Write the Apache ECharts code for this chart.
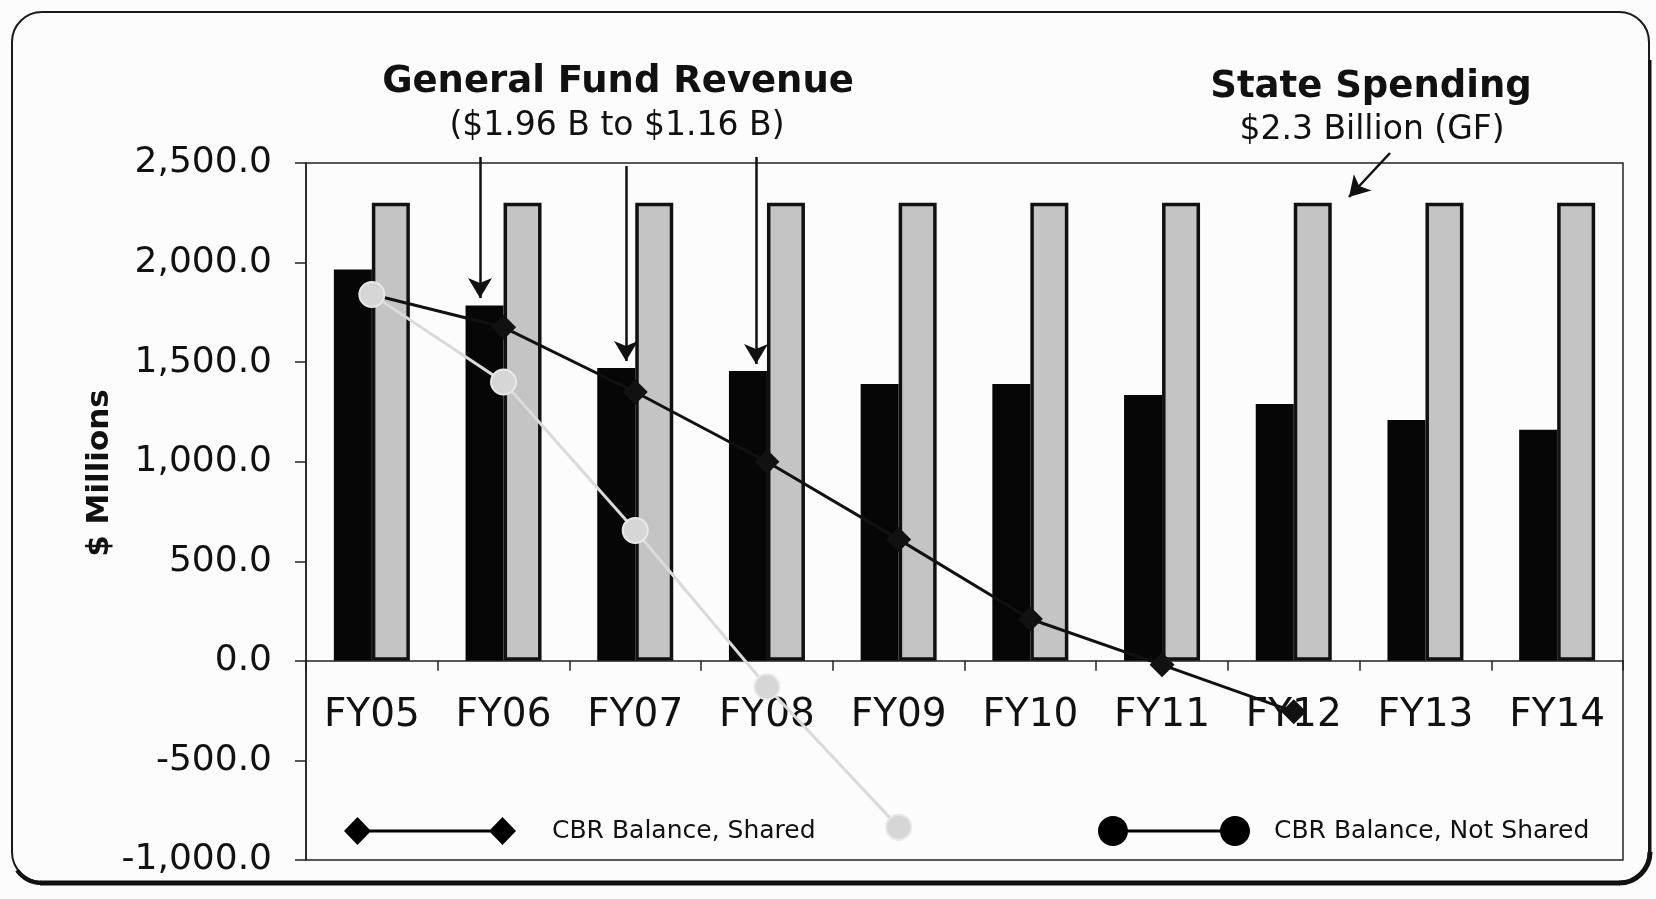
<!DOCTYPE html>
<html>
<head>
<meta charset="utf-8">
<title>General Fund Revenue vs State Spending</title>
<script src="https://cdn.jsdelivr.net/npm/echarts/dist/echarts.min.js"></script>
<style>
  html, body { margin: 0; padding: 0; background: #fcfcfc; }
  #main { width: 1656px; height: 899px; }
</style>
</head>
<body>
<div id="main"></div>
<script>
// data ($ millions)
const years = ['FY05', 'FY06', 'FY07', 'FY08', 'FY09', 'FY10', 'FY11', 'FY12', 'FY13', 'FY14']
const revenue = [1965, 1785, 1470, 1455, 1390, 1390, 1335, 1290, 1210, 1160]
const spending = [2300, 2300, 2300, 2300, 2300, 2300, 2300, 2300, 2300, 2300]
const cbrShared = [1840, 1675, 1350, 1000, 610, 210, -20, -255, null, null]
const cbrNotShared = [1840, 1400, 655, -130, -835, null, null, null, null, null]
const yTicks = [-1000, -500, 0, 500, 1000, 1500, 2000, 2500]

const chart = echarts.init(document.getElementById('main'))

const fmt = v => v.toLocaleString('en-US', { minimumFractionDigits: 1, maximumFractionDigits: 1 })

// plot box
const gridTop = 163, gridBottom = 39, H = 899
const yMin = yTicks[0], yMax = yTicks[yTicks.length - 1]
// the category axis sits on the zero line, labels with it
const plotH = H - gridTop - gridBottom
const zeroFromBottom = plotH * (0 - yMin) / (yMax - yMin)

// legend icons: line with a marker at each end
const diamondIcon = 'path://M0,14L13.5,0L27,14L13.5,28ZM13.5,12.5L158.5,12.5L158.5,15.5L13.5,15.5ZM145,14L158.5,0L172,14L158.5,28Z'
const circ = cx => 'M' + (cx - 15) + ',15C' + (cx - 15) + ',6.7 ' + (cx - 8.3) + ',0 ' + cx + ',0C' + (cx + 8.3) + ',0 ' + (cx + 15) + ',6.7 ' + (cx + 15) + ',15C' +
  (cx + 15) + ',23.3 ' + (cx + 8.3) + ',30 ' + cx + ',30C' + (cx - 8.3) + ',30 ' + (cx - 15) + ',23.3 ' + (cx - 15) + ',15Z'
const circleIcon = 'path://' + circ(15) + 'M15,13.5L137,13.5L137,16.5L15,16.5Z' + circ(137)

let option = {
  backgroundColor: '#fcfcfc',
  animation: false,
  grid: {
    left: 306,
    right: 33,
    top: gridTop,
    bottom: gridBottom,
    show: true,
    borderColor: '#222',
    borderWidth: 1.5,
    backgroundColor: 'transparent',
    containLabel: false,
    outerBoundsMode: 'none'
  },
  legend: [
    {
      left: 344,
      top: 817,
      padding: 0,
      itemWidth: 172,
      itemHeight: 28,
      data: [{ name: 'CBR Balance, Shared', icon: diamondIcon, itemStyle: { color: '#000', borderWidth: 0 } }],
      textStyle: { fontFamily: 'DejaVu Sans', fontSize: 25, color: '#111', padding: [0, 0, 0, 31] }
    },
    {
      left: 1098,
      top: 816,
      padding: 0,
      itemWidth: 152,
      itemHeight: 30,
      data: [{ name: 'CBR Balance, Not Shared', icon: circleIcon, itemStyle: { color: '#000', borderWidth: 0 } }],
      textStyle: { fontFamily: 'DejaVu Sans', fontSize: 25, color: '#111', padding: [0, 0, 0, 19] }
    }
  ],
  xAxis: {
    type: 'category',
    data: years,
    position: 'bottom',
    offset: -zeroFromBottom,
    axisLine: { onZero: false, lineStyle: { color: '#222', width: 1.5 } },
    axisTick: { show: true, length: 10, lineStyle: { color: '#222', width: 1.5 } },
    axisLabel: { fontFamily: 'DejaVu Sans', fontSize: 39, color: '#111', margin: 36, interval: 0 },
    splitLine: { show: false }
  },
  yAxis: {
    type: 'value',
    min: yMin,
    max: yMax,
    interval: 500,
    axisLine: { show: true, lineStyle: { color: '#222', width: 1.5 } },
    axisTick: { show: true, length: 11, lineStyle: { color: '#222', width: 1.5 } },
    axisLabel: { fontFamily: 'DejaVu Sans', fontSize: 36, color: '#111', margin: 34, formatter: fmt },
    splitLine: { show: false }
  },
  series: [
    {
      name: 'General Fund Revenue',
      type: 'bar',
      data: revenue,
      barWidth: 38,
      barGap: '0%',
      itemStyle: { color: '#060606' },
      markLine: {
        silent: true,
        symbol: ['none', 'arrow'],
        symbolSize: [18, 20],
        lineStyle: { color: '#111', width: 2.5, type: 'solid' },
        label: { show: false },
        data: [
          [{ x: 480, y: 157 }, { x: 480, y: 298 }],
          [{ x: 626, y: 166 }, { x: 626, y: 361 }],
          [{ x: 756, y: 157 }, { x: 756, y: 364 }],
          [{ x: 1390, y: 153 }, { x: 1349, y: 197 }]
        ]
      }
    },
    {
      name: 'State Spending',
      type: 'bar',
      data: spending,
      barWidth: 38,
      itemStyle: { color: '#c4c4c4', borderColor: '#111', borderWidth: 3.5 }
    },
    {
      name: 'CBR Balance, Shared',
      type: 'line',
      data: cbrShared,
      symbol: 'diamond',
      symbolSize: [25, 25],
      showAllSymbol: true,
      lineStyle: { color: '#111', width: 3 },
      itemStyle: { color: '#111' },
      z: 3
    },
    {
      name: 'CBR Balance, Not Shared',
      type: 'line',
      data: cbrNotShared,
      symbol: 'circle',
      symbolSize: 25,
      showAllSymbol: true,
      lineStyle: { color: '#dadada', width: 3 },
      itemStyle: { color: '#d6d6d6', borderColor: '#e8e8e8', borderWidth: 2 },
      z: 4
    }
  ],
  graphic: [
    // rounded frame, heavier along the bottom and right
    {
      type: 'rect', z: -10, silent: true,
      shape: { x: 12, y: 12, width: 1637, height: 870, r: 30 },
      style: { fill: 'none', stroke: '#1a1a1a', lineWidth: 2 }
    },
    {
      type: 'line', z: -10, silent: true,
      shape: { x1: 40, y1: 883, x2: 1620, y2: 883 },
      style: { stroke: '#111', lineWidth: 5 }
    },
    {
      type: 'arc', z: -10, silent: true,
      shape: { cx: 1619, cy: 852, r: 31, startAngle: 0, endAngle: Math.PI / 2 },
      style: { stroke: '#111', lineWidth: 5, fill: 'none' }
    },
    {
      type: 'arc', z: -10, silent: true,
      shape: { cx: 42, cy: 852, r: 31, startAngle: Math.PI / 2, endAngle: Math.PI * 0.8 },
      style: { stroke: '#111', lineWidth: 4, fill: 'none' }
    },
    {
      type: 'line', z: -10, silent: true,
      shape: { x1: 1650, y1: 60, x2: 1650, y2: 852 },
      style: { stroke: '#111', lineWidth: 3 }
    },
    {
      type: 'text',
      x: 618, y: 82,
      style: { text: 'General Fund Revenue', fontFamily: 'DejaVu Sans', fontWeight: 'bold', fontSize: 37, fill: '#111', align: 'center', verticalAlign: 'middle' }
    },
    {
      type: 'text',
      x: 617, y: 126,
      style: { text: '($1.96 B to $1.16 B)', fontFamily: 'DejaVu Sans', fontSize: 33, fill: '#111', align: 'center', verticalAlign: 'middle' }
    },
    {
      type: 'text',
      x: 1371, y: 87,
      style: { text: 'State Spending', fontFamily: 'DejaVu Sans', fontWeight: 'bold', fontSize: 37, fill: '#111', align: 'center', verticalAlign: 'middle' }
    },
    {
      type: 'text',
      x: 1372, y: 130,
      style: { text: '$2.3 Billion (GF)', fontFamily: 'DejaVu Sans', fontSize: 33, fill: '#111', align: 'center', verticalAlign: 'middle' }
    },
    {
      type: 'text',
      x: 100, y: 473,
      rotation: Math.PI / 2,
      style: { text: '$ Millions', fontFamily: 'DejaVu Sans', fontWeight: 'bold', fontSize: 31, fill: '#111', align: 'center', verticalAlign: 'middle' }
    }
  ]
}

chart.setOption(option)
</script>
</body>
</html>
